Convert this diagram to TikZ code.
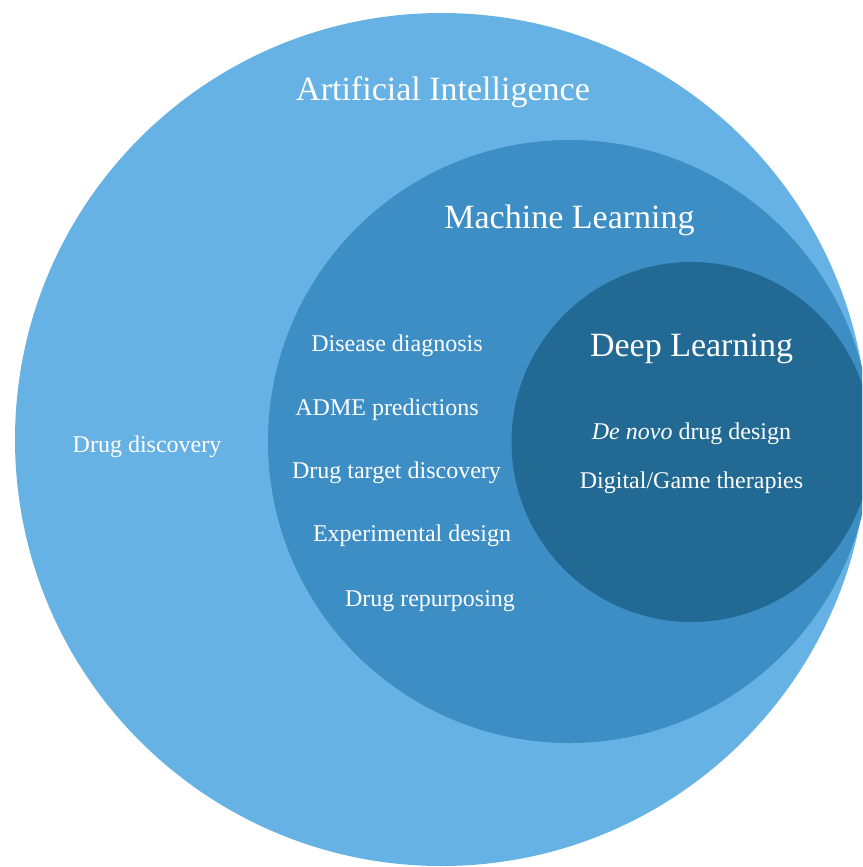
\documentclass[tikz,border=0pt]{standalone}
\usepackage{fontspec}
\setmainfont{Liberation Serif}
\definecolor{aiblue}{RGB}{102,178,228}
\definecolor{mlblue}{RGB}{62,142,198}
\definecolor{dlblue}{RGB}{34,106,148}
\begin{document}
\begin{tikzpicture}[x=1pt,y=-1pt,
  big/.style={text=white,inner sep=0pt,anchor=base,font=\fontsize{34}{40}\selectfont},
  small/.style={text=white,inner sep=0pt,anchor=base,font=\fontsize{24}{28}\selectfont}]
\useasboundingbox (0,0) rectangle (862,867);
\begin{scope}
\clip (0,0) rectangle (862,867);
\fill[aiblue] (441.5,439.5) circle[radius=426.5pt];
\fill[mlblue] (569.5,441.5) circle[radius=301.5pt];
\fill[dlblue] (691.5,442) circle[radius=180pt];
\end{scope}
\node[big] (ai) at (443,100) {Artificial Intelligence};
\node[big] (ml) at (569.5,228) {Machine Learning};
\node[big] (dl) at (691.5,356) {Deep Learning};
\node[small] (dd) at (147,452) {Drug discovery};
\node[small] (dis) at (397,351) {Disease diagnosis};
\node[small] (adme) at (387,415) {ADME predictions};
\node[small] (dtd) at (396.5,478) {Drug target discovery};
\node[small] (exp) at (412,541) {Experimental design};
\node[small] (rep) at (430,606) {Drug repurposing};
\node[small] (dn) at (691.5,439) {\textit{De novo} drug design};
\node[small] (dg) at (691.5,488) {Digital/Game therapies};
\end{tikzpicture}
\end{document}
